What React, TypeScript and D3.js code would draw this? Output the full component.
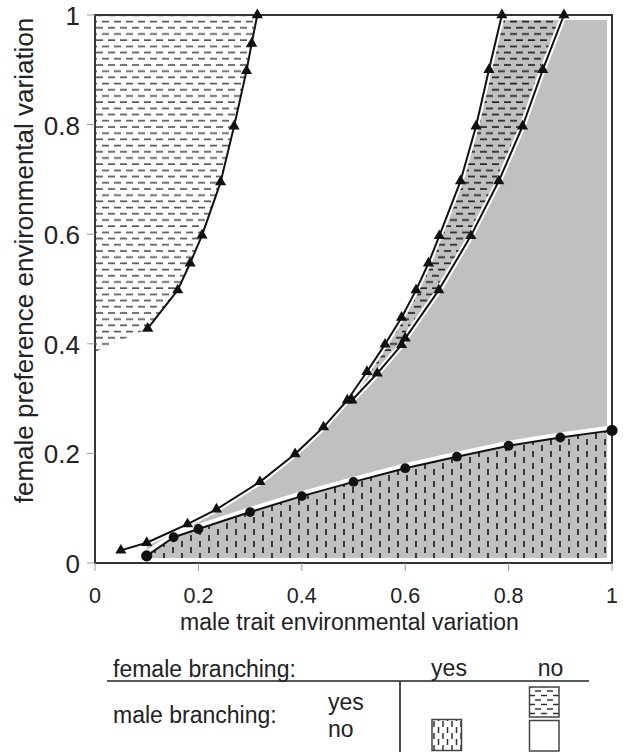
import React from "react";
import * as d3 from "d3";

// ---- data ----
const topLeftX = [0.102, 0.160, 0.184, 0.207, 0.243, 0.269, 0.293, 0.303, 0.314];
const topLeftY = [0.428, 0.498, 0.547, 0.598, 0.695, 0.797, 0.898, 0.948, 1.0];

const leftX = [0.050, 0.100, 0.179, 0.235, 0.319, 0.387, 0.442, 0.488, 0.526, 0.561, 0.593, 0.621, 0.645, 0.666, 0.707, 0.737, 0.762, 0.787];
const leftY = [0.023, 0.037, 0.071, 0.098, 0.148, 0.199, 0.248, 0.297, 0.349, 0.399, 0.448, 0.498, 0.547, 0.597, 0.697, 0.797, 0.900, 1.000];

const rightX = [0.497, 0.546, 0.593, 0.600, 0.665, 0.727, 0.781, 0.827, 0.866, 0.907];
const rightY = [0.297, 0.346, 0.398, 0.410, 0.498, 0.597, 0.697, 0.797, 0.900, 1.000];

const circX = [0.100, 0.152, 0.200, 0.300, 0.400, 0.500, 0.600, 0.700, 0.800, 0.900, 1.000];
const circY = [0.013, 0.047, 0.062, 0.093, 0.122, 0.148, 0.173, 0.194, 0.214, 0.229, 0.242];

const topLeftCornerY = 0.385;

const xTicks = [0, 0.2, 0.4, 0.6, 0.8, 1];
const yTicks = [0, 0.2, 0.4, 0.6, 0.8, 1];
const tickLabels = ["0", "0.2", "0.4", "0.6", "0.8", "1"];

const xTitle = "male trait environmental variation";
const yTitle = "female preference environmental variation";
const legendHeader = "female branching:";
const legendRow = "male branching:";
const legendCols = ["yes", "no"];
const legendRows = ["yes", "no"];

type P = [number, number];
const zip = (a: number[], b: number[]): P[] => a.map((v, i) => [v, b[i]] as P);

const FONT = "'Liberation Sans', Arial, sans-serif";
const GRAY = "#c0c0c0";

export default function App() {
  const x = d3.scaleLinear().domain([0, 1]).range([95, 612]);
  const y = d3.scaleLinear().domain([0, 1]).range([563, 15]);
  const line = d3.line<P>().x((d) => x(d[0])).y((d) => y(d[1]));
  const poly = (pts: P[]) => line(pts) + "Z";

  const topLeft = zip(topLeftX, topLeftY);
  const left = zip(leftX, leftY);
  const right = zip(rightX, rightY);
  const circ = zip(circX, circY);

  const topLeftFill: P[] = [[0, topLeftCornerY], ...topLeft, [0.33, 1.05], [0, 1.05]];
  const bandFill: P[] = [...left.slice(7), ...right.slice().reverse()];
  const grayFill: P[] = [
    ...left.slice(1, 8),
    ...right,
    [1.05, 1.05],
    [1.05, circ[circ.length - 1][1]],
    ...circ.slice().reverse(),
  ];
  const bottomFill: P[] = [...circ, [1.05, circ[circ.length - 1][1]], [1.05, -0.05], [0.1, -0.05]];

  const tri = d3.symbol().type(d3.symbolTriangle).size(54)();
  const triCurves = [topLeft, left, right];

  return (
    <svg width={623} height={752} style={{ position: "absolute", left: 0, top: 0, background: "#fff" }}
      fontFamily={FONT}>
      <defs>
        <pattern id="hdashL" patternUnits="userSpaceOnUse" width={12} height={12.4}>
          <path d="M0,3h7M6,9.2h7M-6,9.2h7" stroke="#555" strokeWidth={1.6} />
        </pattern>
        <pattern id="hdashD" patternUnits="userSpaceOnUse" width={12} height={12.4}>
          <rect width={12} height={12.4} fill={GRAY} />
          <path d="M0,3h7M6,9.2h7M-6,9.2h7" stroke="#222" strokeWidth={1.7} />
        </pattern>
        <pattern id="vdashD" patternUnits="userSpaceOnUse" width={18} height={12}>
          <rect width={18} height={12} fill={GRAY} />
          <path d="M2,1v6M11,7v6M11,-5v6" stroke="#222" strokeWidth={1.7} />
        </pattern>
        <pattern id="vdashW" patternUnits="userSpaceOnUse" width={9} height={12}>
          <path d="M2,1v6M6.5,7v6M6.5,-5v6" stroke="#333" strokeWidth={1.5} />
        </pattern>
        <pattern id="hdashW" patternUnits="userSpaceOnUse" width={12} height={9}>
          <path d="M1,2.5h6M7,7h6M-5,7h6" stroke="#333" strokeWidth={1.5} />
        </pattern>
        <clipPath id="clipFrame">
          <rect x={96} y={16} width={515} height={546} />
        </clipPath>
        <clipPath id="clipInner">
          <rect x={96} y={20} width={511} height={538} />
        </clipPath>
      </defs>

      {/* fills */}
      <g clipPath="url(#clipFrame)">
        <path d={poly(topLeftFill)} fill="url(#hdashL)" />
      </g>
      <g clipPath="url(#clipInner)">
        <path d={poly(grayFill)} fill={GRAY} />
        <path d={poly(bandFill)} fill="url(#hdashD)" />
        <path d={poly(bottomFill)} fill="url(#vdashD)" />
      </g>

      {/* white separating bands */}
      <g clipPath="url(#clipFrame)" fill="none" stroke="#fff" strokeLinejoin="round">
        <path d={line(left.slice(1)) || ""} strokeWidth={6} />
        <path d={line(right) || ""} strokeWidth={6} />
        <path d={line(circ) || ""} strokeWidth={5} transform="translate(0,-2.5)" />
      </g>

      {/* frame */}
      <rect x={95} y={15} width={517} height={548} fill="none" stroke="#333" strokeWidth={2} />
      {yTicks.map((t, i) => (
        <g key={"y" + i}>
          <line x1={87} x2={95} y1={y(t)} y2={y(t)} stroke="#999" strokeWidth={1} />
          <text x={80} y={y(t) + 10} textAnchor="end" fontSize={26} fill="#222">
            {tickLabels[i]}
          </text>
        </g>
      ))}
      {xTicks.map((t, i) => (
        <g key={"x" + i}>
          <line x1={x(t)} x2={x(t)} y1={563} y2={571} stroke="#999" strokeWidth={1} />
          <text x={x(t)} y={603} textAnchor="middle" fontSize={21.5} fill="#222">
            {tickLabels[i]}
          </text>
        </g>
      ))}
      <text x={349.5} y={630} textAnchor="middle" fontSize={23} fill="#222">
        {xTitle}
      </text>
      <text transform="translate(33,260.5) rotate(-90)" textAnchor="middle" fontSize={26} fill="#222">
        {yTitle}
      </text>

      {/* curves */}
      <g fill="none" stroke="#111" strokeWidth={2} strokeLinejoin="round">
        {triCurves.map((c, i) => (
          <path key={"c" + i} d={line(c) || ""} />
        ))}
        <path d={line(circ) || ""} />
      </g>
      <g fill="#111">
        {triCurves.map((c, i) =>
          c.map((p, j) => (
            <path key={"t" + i + "-" + j} d={tri || ""} transform={`translate(${x(p[0])},${y(p[1])})`} />
          ))
        )}
        {circ.map((p, j) => (
          <circle key={"o" + j} cx={x(p[0])} cy={y(p[1])}
            r={j === 0 || j === circ.length - 1 ? 5.6 : 4.9} />
        ))}
      </g>

      {/* legend */}
      <g fill="#222" fontSize={23}>
        <text x={113} y={676.5}>{legendHeader}</text>
        <text x={449} y={676} textAnchor="middle">{legendCols[0]}</text>
        <text x={550.5} y={676} textAnchor="middle">{legendCols[1]}</text>
        <text x={113} y={723}>{legendRow}</text>
        <text x={328} y={710}>{legendRows[0]}</text>
        <text x={328} y={737}>{legendRows[1]}</text>
      </g>
      <line x1={107} x2={589} y1={681} y2={681} stroke="#222" strokeWidth={1.6} />
      <line x1={400} x2={400} y1={681} y2={752} stroke="#222" strokeWidth={1.6} />
      <rect x={432} y={719.5} width={29.5} height={31} fill="url(#vdashW)" stroke="#444" strokeWidth={1.5} />
      <rect x={529.5} y={687} width={29.5} height={30} fill="url(#hdashW)" stroke="#444" strokeWidth={1.5} />
      <rect x={529.5} y={720.5} width={29.5} height={30.5} fill="#fff" stroke="#444" strokeWidth={1.5} />
    </svg>
  );
}
